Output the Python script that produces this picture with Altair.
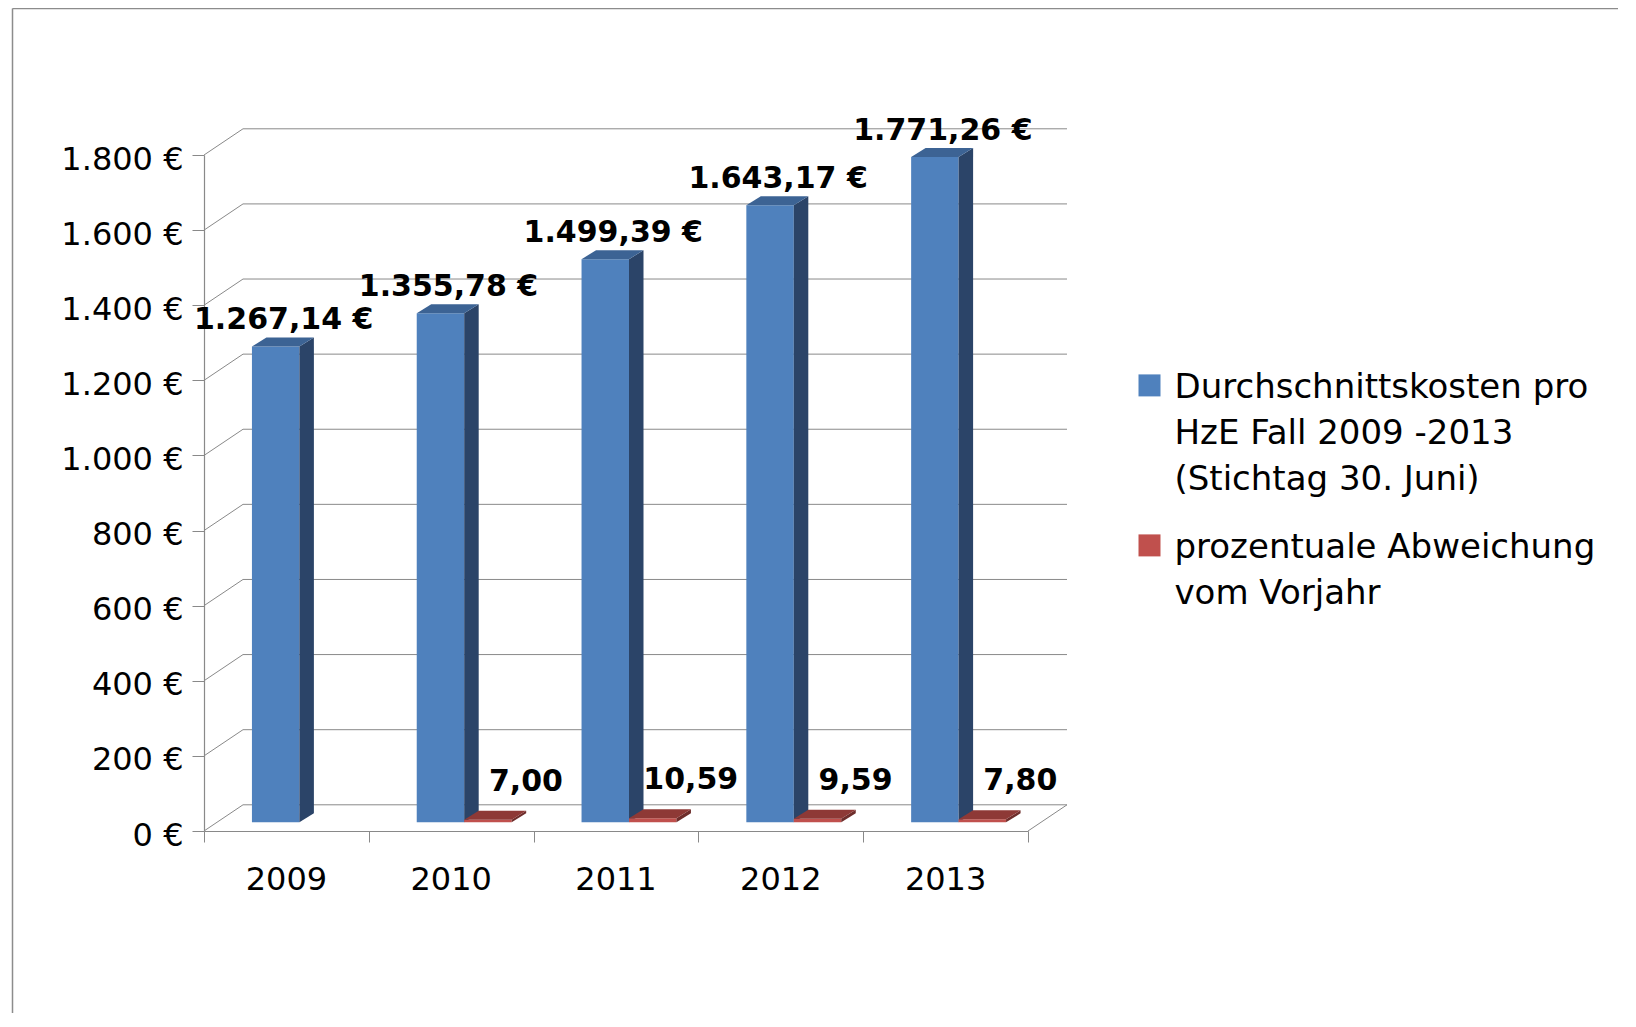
import altair as alt
import pandas as pd

# ---------------- data ----------------
years = ["2009", "2010", "2011", "2012", "2013"]
kosten = [1267.14, 1355.78, 1499.39, 1643.17, 1771.26]
abweichung = [None, 7.00, 10.59, 9.59, 7.80]
y_ticks = [0, 200, 400, 600, 800, 1000, 1200, 1400, 1600, 1800]
series = [
    "Durchschnittskosten pro|HzE Fall 2009 -2013|\u2002(Stichtag 30. Juni)",
    "prozentuale Abweichung|vom Vorjahr",
]

# ---------------- layout / 3D projection ----------------
W, H = 824, 676
N = len(years)
Y_MAX = 1800
PX_X = W / N
PX_Y = H / Y_MAX

BACK = (39, 26.2)        # wall depth in px
BAR_SHIFT = (13, 8.7)    # bar front plane behind axis plane, px
BAR_DEPTH = (14.5, 9)    # bar depth, px
SLOTS = [(0.212, 0.5), (0.5, 0.788)]

FRONT = ["#4F81BD", "#C0504D"]
SIDE = ["#2B4468", "#6E2D2B"]
TOP = ["#3C6394", "#8E3936"]
GRID = "#898989"
FONT = "DejaVu Sans"


def ux(px):
    return px / PX_X


def uy(px):
    return px / PX_Y


def de(v):
    s = f"{v:,.2f}"
    return s.replace(",", "#").replace(".", ",").replace("#", ".")


xs = alt.Scale(domain=[0, N], nice=False, zero=False)
ys = alt.Scale(domain=[0, Y_MAX], nice=False, zero=False)
xa = alt.Axis(values=list(range(N + 1)), labels=False, title=None, grid=False,
              tickSize=11, tickColor=GRID, domainColor=GRID, domainWidth=1.2)
ya = alt.Axis(values=y_ticks, title=None, grid=False, tickSize=12, tickColor=GRID,
              domainColor=GRID, domainWidth=1.2, labelPadding=9, labelFontSize=32,
              labelColor="black", labelFont=FONT, labelOffset=4,
              labelExpr="replace(format(datum.value, ','), ',', '.') + ' €'")


def X(field, **kw):
    return alt.X(field, scale=xs, axis=xa, **kw)


def Y(field, **kw):
    return alt.Y(field, scale=ys, axis=ya, **kw)


grid = pd.DataFrame({"v": y_ticks})
grid["x0"] = ux(BACK[0])
grid["x1"] = N + ux(BACK[0])
grid["vb"] = grid["v"] + uy(BACK[1])
grid["xf"] = 0.0
floor_r = pd.DataFrame({"x": [float(N)], "x2": [N + ux(BACK[0])], "y": [0.0], "y2": [uy(BACK[1])]})

front, side, top, lab = [], [], [], []
for s, vals in enumerate([kosten, abweichung]):
    for i, v in enumerate(vals):
        if v is None:
            continue
        lo, hi = SLOTS[s]
        x0 = i + lo + ux(BAR_SHIFT[0])
        x1 = i + hi + ux(BAR_SHIFT[0])
        b = uy(BAR_SHIFT[1])
        t = b + v
        dx, dy = ux(BAR_DEPTH[0]), uy(BAR_DEPTH[1])
        bid = f"{s}-{i}"
        front.append(dict(id=bid, series=series[s], s=s, x0=x0, x1=x1, b=b, t=t))
        side += [dict(id=bid, s=s, x=x1, lo=b, hi=t), dict(id=bid, s=s, x=x1 + dx, lo=b + dy, hi=t + dy)]
        top += [dict(id=bid, s=s, y=t, l=x0, r=x1), dict(id=bid, s=s, y=t + dy, l=x0 + dx, r=x1 + dx)]
        lab.append(dict(s=s, x=(x0 + x1) / 2, y=t, text=de(v) + (" €" if s == 0 else "")))

front = pd.DataFrame(front)
side = pd.DataFrame(side)
top = pd.DataFrame(top)
lab = pd.DataFrame(lab)
yr = pd.DataFrame({"year": years, "x": [i + 0.5 for i in range(N)], "y": [0.0] * N})

# ---------------- layers ----------------
walls_back = alt.Chart(grid).mark_rule(color=GRID, strokeWidth=1).encode(
    x=X("x0:Q"), x2="x1:Q", y=Y("vb:Q"),
)
walls_diag = alt.Chart(grid).mark_rule(color=GRID, strokeWidth=1).encode(
    x=X("xf:Q"), x2="x0:Q", y=Y("v:Q"), y2="vb:Q",
)
floor_diag = alt.Chart(floor_r).mark_rule(color=GRID, strokeWidth=1).encode(
    x=X("x:Q"), x2="x2:Q", y=Y("y:Q"), y2="y2:Q",
)

legend = alt.Legend(
    orient="none", legendX=928.5, legendY=225.5, title=None,
    labelExpr="split(datum.label, '|')", labelFontSize=34, labelFont=FONT,
    labelColor="black", labelLimit=700, labelBaseline="alphabetic",
    symbolType="M-1,-2.1H1V-0.1H-1Z", symbolSize=484, symbolStrokeWidth=0,
    symbolOpacity=1, labelOffset=8, rowPadding=34, padding=0, symbolOffset=0,
)
color = alt.Color("series:N", scale=alt.Scale(domain=series, range=FRONT), legend=legend)

bar_layers = []
for s in [0, 1]:
    f = alt.Chart(front[front.s == s]).mark_rect().encode(
        x=X("x0:Q"), x2="x1:Q", y=Y("b:Q"), y2="t:Q", color=color,
    )
    sd = alt.Chart(side[side.s == s]).mark_area(orient="vertical", color=SIDE[s]).encode(
        x=X("x:Q"), y=Y("hi:Q", stack=False), y2="lo:Q", detail="id:N",
    )
    tp = alt.Chart(top[top.s == s]).mark_area(orient="horizontal", color=TOP[s]).encode(
        y=Y("y:Q"), x=X("l:Q", stack=False), x2="r:Q", detail="id:N",
    )
    bar_layers += [f, sd, tp]

lab_blue = alt.Chart(lab[lab.s == 0]).mark_text(
    font=FONT, fontSize=30, fontWeight="bold", color="black", dx=8, dy=-26, baseline="middle"
).encode(x=X("x:Q"), y=Y("y:Q"), text="text:N")
lab_red = alt.Chart(lab[lab.s == 1]).mark_text(
    font=FONT, fontSize=30, fontWeight="bold", color="black", dx=38, dy=-38, baseline="middle"
).encode(x=X("x:Q"), y=Y("y:Q"), text="text:N")
year_lab = alt.Chart(yr).mark_text(
    font=FONT, fontSize=32, color="black", dy=49, baseline="middle"
).encode(x=X("x:Q"), y=Y("y:Q"), text="year:N")

frame_df = pd.DataFrame({"k": [0]})
frame_v = alt.Chart(frame_df).mark_rule(color="#8c8c8c", strokeWidth=1.5).encode(
    x=alt.value(-191.5), y=alt.value(-146.5), y2=alt.value(H + 182))
frame_h = alt.Chart(frame_df).mark_rule(color="#8c8c8c", strokeWidth=1.5).encode(
    x=alt.value(-191.5), x2=alt.value(W + 590), y=alt.value(-146.5))

chart = alt.layer(
    walls_back, walls_diag, floor_diag, *bar_layers, lab_blue, lab_red, year_lab, frame_v, frame_h
).properties(
    width=W, height=H,
    autosize=alt.AutoSizeParams(type="none"),
    padding={"left": 196, "top": 147, "right": 590, "bottom": 182},
).configure(
    font=FONT,
    style={"guide-label": {"lineHeight": 46}},
).configure_view(strokeWidth=0)

chart.save("out.html", embed_options={"renderer": "svg", "actions": False})
